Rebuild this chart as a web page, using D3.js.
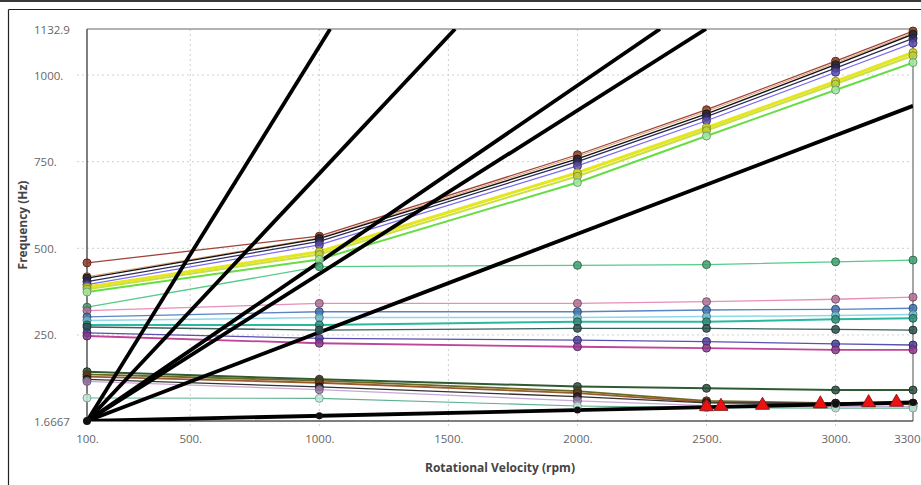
<!DOCTYPE html>
<html><head><meta charset="utf-8">
<script src="https://cdn.jsdelivr.net/npm/d3@7"></script>
<style>body{margin:0;background:#fff;overflow:hidden}svg{display:block}</style>
</head><body><svg id="c" width="921" height="485"></svg>
<script>
// ---------- data ----------
const rpm = [100, 1000, 2000, 2500, 3000, 3300];
const xTicks = [100, 500, 1000, 1500, 2000, 2500, 3000, 3300];
const xTickLabels = ["100.", "500.", "1000.", "1500.", "2000.", "2500.", "3000.", "3300"];
const yTicks = [1.6667, 250, 500, 750, 1000, 1132.9];
const yTickLabels = ["1.6667", "250.", "500.", "750.", "1000.", "1132.9"];

// upper (rising) modes
const modeBrown    = [458, 535, 770, 900, 1040, 1127];
const modeOrange   = [418, 530, 765, 895, 1035, 1122];
const modeBlack    = [414, 528, 758, 888, 1030, 1118];
const modeNavy     = [404, 520, 750, 880, 1020, 1106];
const modeViolet   = [395, 510, 738, 868, 1008, 1092];
const modeYellow   = [388, 490, 718, 848, 982, 1065];
const modeYelGreen = [382, 482, 708, 840, 974, 1056];
const modeGreen    = [374, 468, 690, 824, 957, 1036];
// middle (flat) modes
const modeLtGreen  = [330, 447, 451, 453, 461, 466];
const modePink     = [320, 341, 341, 346, 353, 359];
const modeBlue     = [302, 317, 317, 322, 324, 327];
const modeCyan     = [292, 300, 300, 303, 306, 309];
const modeTeal     = [279, 279, 288, 288, 295, 298];
const modeSlate    = [273, 264, 269, 269, 266, 264];
const modePurple   = [256, 240, 235, 231, 224, 221];
const modeMagenta  = [247, 226, 216, 212, 207, 207];
// lower (falling) modes
const modeDkGreen  = [144, 122, 101, 96, 91, 91];
const modeOlive    = [136, 118, 88, 60, 53, 53];
const modeRust     = [130, 112, 82, 56, 51, 51];
const modeDark     = [122, 100, 72, 54, 53, 53];
const modeLavender = [116, 92, 60, 46, 44, 44];
const modeSea      = [68, 67, 45, 40, 39, 39];

const modes = [modeBrown, modeOrange, modeBlack, modeNavy, modeViolet, modeYellow, modeYelGreen, modeGreen,
  modeLtGreen, modePink, modeBlue, modeCyan, modeTeal, modeSlate, modePurple, modeMagenta,
  modeDkGreen, modeOlive, modeRust, modeDark, modeLavender, modeSea];

// excitation order lines: start point and end point [rpm, Hz]
const orderStart = [100, 1.6667];
const orderEnds = [[1042, 1132.9], [1526, 1132.9], [2320, 1132.9], [2498, 1132.9], [3300, 911], [3300, 55]];
// 1x line markers
const oneXRpm = [1000, 2000, 3000, 3300];
const oneXHz  = [16.7, 33.3, 50, 55];

// critical speeds (triangles)
const critRpm = [2500, 2556, 2717, 2941, 3128, 3236];
const critHz  = [43, 44, 47, 51, 54.5, 56];

// ---------- styles ----------
const lineColors = ["#a0443a", "#e0a070", "#111111", "#2a2a5a", "#7b68ee", "#e6e620", "#c8e040", "#66dd44",
  "#55cc88", "#e68fb8", "#5a84c4", "#8fd8e8", "#2ab8a0", "#3a6060", "#5a50b0", "#c0449a",
  "#2f5a34", "#6b6b20", "#9a5a30", "#333333", "#c8a8d8", "#60b090"];
const markerFill = ["#8b3a2a", "#b86a40", "#222222", "#2a2a5a", "#5a4aa8", "#d0d020", "#b8d040", "#a0e8a0",
  "#3f9f6f", "#b07095", "#3f6faf", "#6fb8c8", "#2e8b77", "#2f4f4f", "#4a3f98", "#8b3a8b",
  "#2f4f3f", "#4f4f20", "#6a3a20", "#222222", "#9f80af", "#bfe8d8"];
const lineWidths = [1.3, 1, 1.4, 1.2, 1.2, 3, 2, 2, 1.3, 1.3, 1.3, 1.5, 2, 1.3, 1.3, 1.8, 2, 1.8, 1.8, 1.3, 1.3, 1.2];

const W = 921, H = 485;
const L = 87, R = 913, T = 29, B = 421;
const svg = d3.select("#c");

// outer frame
svg.append("rect").attr("x", 0).attr("y", 0).attr("width", W).attr("height", 2).attr("fill", "#3a3a3a");
svg.append("line").attr("x1", 8.5).attr("x2", W).attr("y1", 9.5).attr("y2", 9.5).attr("stroke", "#222").attr("stroke-width", 1.2);
svg.append("line").attr("x1", 8.5).attr("x2", 8.5).attr("y1", 9.5).attr("y2", H).attr("stroke", "#222").attr("stroke-width", 1.2);

const x = d3.scaleLinear().domain([100, 3300]).range([L, R]);
const y = d3.scaleLinear().domain([1.6667, 1132.9]).range([B, T]);

svg.append("defs").append("clipPath").attr("id", "plotclip")
  .append("rect").attr("x", L).attr("y", T).attr("width", R - L).attr("height", B - T);

// gridlines
const gx = svg.append("g");
gx.selectAll("line.vg").data(xTicks.filter(d => d > 100 && d < 3300)).join("line")
  .attr("x1", d => x(d)).attr("x2", d => x(d)).attr("y1", T).attr("y2", B + 7)
  .attr("stroke", "#cfcfcf").attr("stroke-width", 1).attr("stroke-dasharray", "2,3");
gx.selectAll("line.hg").data(yTicks.filter(d => d > 2 && d < 1132)).join("line")
  .attr("x1", L - 10).attr("x2", R).attr("y1", d => y(d)).attr("y2", d => y(d))
  .attr("stroke", "#cfcfcf").attr("stroke-width", 1).attr("stroke-dasharray", "2,3");

// axes via d3
const xAxis = d3.axisBottom(x).tickValues(xTicks).tickFormat((d, i) => xTickLabels[i]).tickSize(0).tickPadding(14);
const ax = svg.append("g").attr("transform", `translate(0,${B})`).call(xAxis);
ax.select(".domain").remove();
ax.selectAll("text").attr("font-family", "'Open Sans', sans-serif").attr("font-size", 11.5).attr("fill", "#666");
ax.selectAll(".tick").filter(d => d === 3300).select("text").attr("text-anchor", "end").attr("x", W - 1 - R);

const yAxis = d3.axisLeft(y).tickValues(yTicks).tickFormat((d, i) => yTickLabels[i]).tickSize(0);
const ay = svg.append("g").attr("transform", `translate(${L},0)`).call(yAxis);
ay.select(".domain").remove();
ay.selectAll("text").attr("font-family", "'Open Sans', sans-serif").attr("font-size", 11.5).attr("fill", "#666")
  .attr("text-anchor", "start").attr("x", 34 - L).attr("dy", "0.35em");

// plot frame
svg.append("line").attr("x1", L).attr("x2", R).attr("y1", T).attr("y2", T).attr("stroke", "#999").attr("stroke-width", 1.5);
svg.append("line").attr("x1", R).attr("x2", R).attr("y1", T).attr("y2", B).attr("stroke", "#888").attr("stroke-width", 1.5);
svg.append("line").attr("x1", L).attr("x2", R).attr("y1", B).attr("y2", B).attr("stroke", "#555").attr("stroke-width", 1.5);
svg.append("line").attr("x1", L).attr("x2", L).attr("y1", T).attr("y2", B).attr("stroke", "#555").attr("stroke-width", 1.5);

const plot = svg.append("g").attr("clip-path", "url(#plotclip)");
const line = d3.line().x(d => x(d[0])).y(d => y(d[1]));

// mode lines
modes.forEach((m, i) => {
  plot.append("path").datum(rpm.map((r, j) => [r, m[j]]))
    .attr("d", line).attr("fill", "none").attr("stroke", lineColors[i]).attr("stroke-width", lineWidths[i]);
});

// order lines
orderEnds.forEach(e => {
  plot.append("path").datum([orderStart, e]).attr("d", line)
    .attr("fill", "none").attr("stroke", "#000").attr("stroke-width", 3.8);
});

// markers
const mk = svg.append("g");
modes.forEach((m, i) => {
  mk.selectAll(null).data(rpm.map((r, j) => [r, m[j]])).join("circle")
    .attr("cx", d => x(d[0])).attr("cy", d => y(d[1])).attr("r", 4)
    .attr("fill", markerFill[i]).attr("fill-opacity", 0.85)
    .attr("stroke", d3.color(markerFill[i]).darker(1)).attr("stroke-width", 1);
});
mk.selectAll(null).data(oneXRpm.map((r, j) => [r, oneXHz[j]])).join("circle")
  .attr("cx", d => x(d[0])).attr("cy", d => y(d[1])).attr("r", 3.5).attr("fill", "#111");
mk.append("circle").attr("cx", x(orderStart[0])).attr("cy", y(orderStart[1])).attr("r", 4).attr("fill", "#111");

// critical speed triangles
const tri = d3.symbol().type(d3.symbolTriangle).size(85);
svg.append("g").selectAll("path").data(critRpm.map((r, j) => [r, critHz[j]])).join("path")
  .attr("d", tri).attr("transform", d => `translate(${x(d[0])},${y(d[1])})`)
  .attr("fill", "#ee1111").attr("stroke", "#7a1010").attr("stroke-width", 0.8);

// titles
svg.append("text").attr("x", (L + R) / 2).attr("y", 472).attr("text-anchor", "middle")
  .attr("font-family", "'Open Sans', sans-serif").attr("font-size", 12).attr("font-weight", "bold").attr("fill", "#444")
  .text("Rotational Velocity (rpm)");
svg.append("text").attr("transform", `translate(27,225) rotate(-90)`).attr("text-anchor", "middle")
  .attr("font-family", "'Open Sans', sans-serif").attr("font-size", 12).attr("font-weight", "bold").attr("fill", "#444")
  .text("Frequency (Hz)");
</script></body></html>
